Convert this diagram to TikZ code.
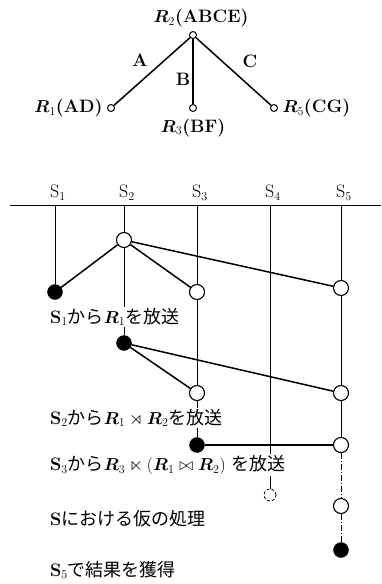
\documentclass[tikz,border=0pt]{standalone}
\usepackage{amsmath}
\usepackage{amssymb}
\usepackage{bm}
\usepackage{fontspec}
\newfontfamily\jp{Noto Sans CJK JP}
\usepackage{tikz}
\usetikzlibrary{positioning, calc}

\begin{document}
\begin{tikzpicture}[
    x=1pt, y=-1pt,
    font=\fontsize{18}{20}\selectfont,
    site/.style={circle, draw, line width=1pt, fill=white, minimum size=7pt, inner sep=0pt},
    open/.style={circle, draw, line width=1.1pt, fill=white, minimum size=15pt, inner sep=0pt},
    full/.style={circle, draw, fill=black, minimum size=15pt, inner sep=0pt},
    ghost/.style={circle, draw, densely dashed, line width=0.8pt, minimum size=12pt, inner sep=0pt},
    link/.style={line width=1.5pt},
    lane/.style={line width=0.7pt},
    step label/.style={anchor=west, fill=white, inner sep=1pt}
]
\useasboundingbox (0,0) rectangle (381,584);

% Join tree
\node[site] (r2) at (193,35) {};
\node[site] (r1) at (111,108) {};
\node[site] (r3) at (193,108) {};
\node[site] (r5) at (274,108) {};
\node[above=0pt of r2, xshift=8pt] {$\bm{R}_2$\textbf{(ABCE)}};
\node[left=1pt of r1] {$\bm{R}_1$\textbf{(AD)}};
\node[below=3pt of r3] {$\bm{R}_3$\textbf{(BF)}};
\node[right=1pt of r5] {$\bm{R}_5$\textbf{(CG)}};
\draw[link] (r2) -- (r1);
\draw[link] (r2) -- (r3);
\draw[link] (r2) -- (r5);
\node at (140,60) {\textbf{A}};
\node at (183,79) {\textbf{B}};
\node at (250,61) {\textbf{C}};

% Sites
\coordinate (barL) at (10,205);
\coordinate (barR) at (381,205);
\draw[lane] (barL) -- (barR);
\foreach \i/\x in {1/55, 2/124, 3/197, 4/270, 5/341} {
    \coordinate (top\i) at (\x,205);
    \node[above=1pt of top\i, xshift=3pt] (s\i) {S$_{\i}$};
}

% Steps
\node[open] (a2) at (124,240) {};
\node[full] (a1) at (55,292) {};
\node[open] (a3) at (197,292) {};
\node[open] (a5) at (341,288) {};
\node[full] (b2) at (124,343) {};
\node[open] (b3) at (197,393) {};
\node[open] (b5) at (341,393) {};
\node[full] (c3) at (197,445) {};
\node[open] (c5) at (341,445) {};
\node[ghost] (d4) at (270,495) {};
\node[open] (d5) at (341,506) {};
\node[full] (e5) at (341,550) {};

% Lifelines
\draw[lane] (top1) -- (a1);
\draw[lane] (top2) -- (a2) -- (b2);
\draw[lane] (top3) -- (a3) -- (b3) -- (c3);
\draw[lane] (top4) -- (d4);
\draw[lane] (top5) -- (a5) -- (b5) -- (c5);
\draw[lane, dash pattern=on 6pt off 2pt on 1pt off 2pt] (c5) -- (d5) -- (e5);

% Transfers
\draw[link] (a2) -- (a1);
\draw[link] (a2) -- (a3);
\draw[link] (a2) -- (a5);
\draw[link] (b2) -- (b3);
\draw[link] (b2) -- (b5);
\draw[link] (c3) -- (c5);

% Captions
\node[step label] (t1) at (49,317) {\textbf{S}$_1${\jp から}$\bm{R}_1${\jp を放送}};
\node[step label] (t2) at (49,418) {\textbf{S}$_2${\jp から}$\bm{R}_1\rtimes\bm{R}_2${\jp を放送}};
\node[step label] (t3) at (49,465) {\textbf{S}$_3${\jp から}$\bm{R}_3\ltimes(\bm{R}_1\bowtie\bm{R}_2)$\ {\jp を放送}};
\node[step label] (t4) at (49,519) {\textbf{S}{\jp における仮の処理}};
\node[step label] (t5) at (49,570) {\textbf{S}$_5${\jp で結果を獲得}};

\end{tikzpicture}
\end{document}
